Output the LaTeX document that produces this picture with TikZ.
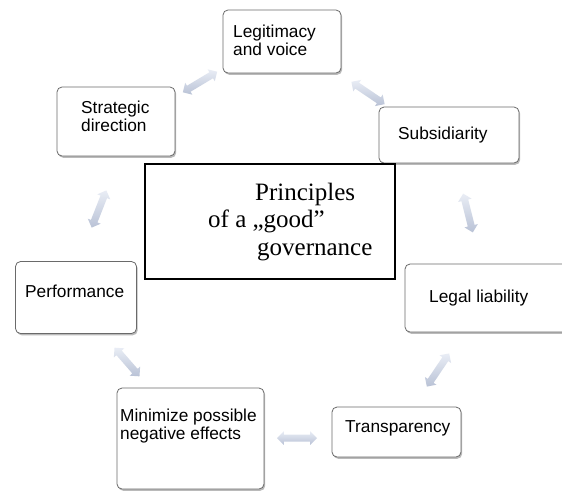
\documentclass[tikz,border=0pt]{standalone}
\usepackage{fontspec}
\setmainfont{Liberation Serif}
\setsansfont{Liberation Sans}
\usetikzlibrary{shapes.arrows,shadows}
\definecolor{boxline}{HTML}{6A6A6A}
\definecolor{arrlight}{HTML}{E9EDF5}
\definecolor{arrdark}{HTML}{B9C2D6}
\newcommand\linestack[2]{\vtop{\hbox{#1}\hbox{#2}}}
\tikzset{
  gbox/.style={draw=boxline, line width=0.8pt, rounded corners=5pt, fill=white,
    inner sep=0pt,
    drop shadow={shadow xshift=1.2pt, shadow yshift=-1.8pt, fill=black!60, opacity=0.45}},
  btext/.style={anchor=base west, inner sep=0pt,
    font=\sffamily\fontsize{17.3}{18.8}\selectfont},
  dblarrow/.style={double arrow, draw=none, inner xsep=0pt, inner ysep=3.3pt,
    minimum height=40pt,
    double arrow head extend=3.4pt, double arrow head indent=0pt,
    top color=arrlight, bottom color=arrdark},
  centerbox/.style={draw=black, line width=1.6pt, fill=white, inner sep=0pt}
}
\begin{document}
\begin{tikzpicture}[x=1pt,y=-1pt]
\useasboundingbox (0,0) rectangle (562,491);
\clip (0,0) rectangle (562,491);
\fill[white] (0,0) rectangle (562,491);
% boxes
\node[gbox, minimum width=118pt, minimum height=63pt] (legit) at (282,41.5) {};
\node[gbox, minimum width=118pt, minimum height=69pt] (strat) at (116,121.5) {};
\node[gbox, minimum width=140pt, minimum height=56pt] (subs) at (449,135) {};
\node[gbox, minimum width=121pt, minimum height=72pt] (perf) at (76,297.5) {};
\node[gbox, minimum width=200pt, minimum height=68pt] (legal) at (505,298) {};
\node[gbox, minimum width=147pt, minimum height=101pt] (mini) at (190.5,438.5) {};
\node[gbox, minimum width=129pt, minimum height=50pt] (trans) at (396.5,432) {};
\node[centerbox, minimum width=250pt, minimum height=115pt] (center) at (270,221.5) {};
% texts
\node[btext] (legitT) at (233,37) {\linestack{Legitimacy}{and voice}};
\node[btext] (stratT) at (81,113) {\linestack{Strategic}{direction}};
\node[btext] (subsT) at (398,139) {Subsidiarity};
\node[btext] (perfT) at (25,297) {Performance};
\node[btext] (legalT) at (429,302) {Legal liability};
\node[btext] (miniT) at (120,421) {\linestack{Minimize possible}{negative effects}};
\node[btext] (transT) at (345,432) {Transparency};
\node[anchor=base west, inner sep=0pt, font=\rmfamily\fontsize{25}{27.5}\selectfont]
  (centerT) at (208,200)
  {\vtop{\hbox{\kern47pt Principles}\hbox{of a „good”}\hbox{\kern49pt governance}}};
% double arrows
\node[dblarrow, rotate=31] (a1) at (200,82) {};
\node[dblarrow, rotate=-34] (a2) at (368,93) {};
\node[dblarrow, rotate=68.5] (a3) at (99,209) {};
\node[dblarrow, rotate=104] (a4) at (468,213) {};
\node[dblarrow, rotate=56] (a5) at (438,370) {};
\node[dblarrow, rotate=131, minimum height=38pt] (a6) at (127,362) {};
\node[dblarrow, rotate=0] (a7) at (297,438) {};
\end{tikzpicture}
\end{document}
